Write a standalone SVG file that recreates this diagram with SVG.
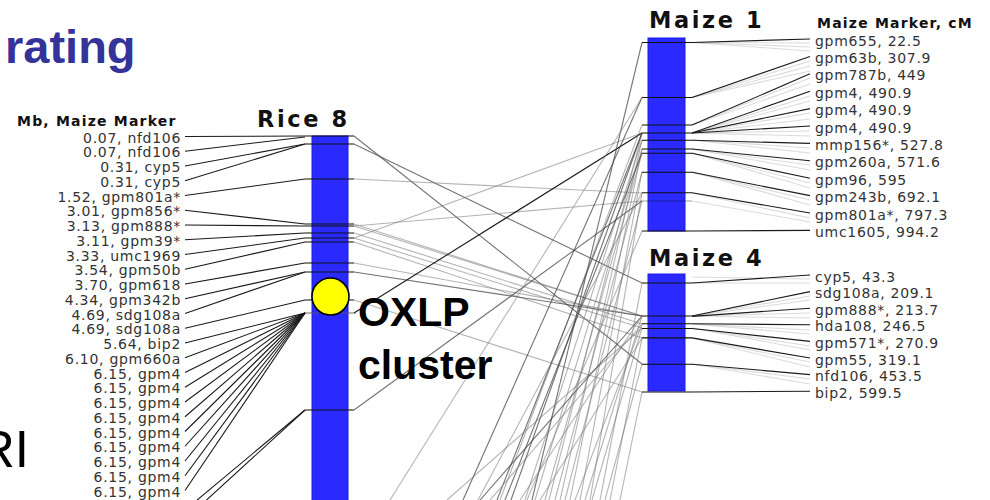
<svg xmlns="http://www.w3.org/2000/svg" width="990" height="500" viewBox="0 0 990 500">
<style>
.lbl{font-family:"DejaVu Sans",sans-serif;font-size:14px;letter-spacing:0.7px;fill:#333}
.hdr{font-family:"DejaVu Sans",sans-serif;font-size:14px;font-weight:bold;letter-spacing:1.2px;fill:#111}
.chr{font-family:"DejaVu Sans",sans-serif;font-size:22.5px;font-weight:bold;letter-spacing:2.6px;fill:#111}
.big{font-family:"Liberation Sans",Arial,sans-serif;font-weight:bold;font-size:41px;fill:#000}
.bar{fill:#2a2aff;stroke:#1a1aee;stroke-width:1}
line,polyline{fill:none;stroke-width:1.1}
.d{stroke:#1a1a1a}
.m{stroke:#444;stroke-opacity:.75}
.l{stroke:#777;stroke-opacity:.55}
.f{stroke:#999;stroke-opacity:.35}
.t{stroke:#111;stroke-width:1.2}
</style>
<rect width="990" height="500" fill="#fff"/>
<text x="5" y="63" font-family="Liberation Sans,Arial,sans-serif" font-weight="bold" font-size="47" fill="#333399">rating</text>
<text x="-22" y="467" font-family="Liberation Sans,Arial,sans-serif" font-size="51" fill="#000">RI</text>

<g id="connectors">
<g class="d">
<polyline points="185,136.5 305,136"/>
<polyline points="185,151.25 305,137"/>
<polyline points="185,166 305,144"/>
<polyline points="185,180.75 305,144"/>
<polyline points="185,195.5 305,179"/>
<polyline points="185,210.25 305,224"/>
<polyline points="185,225 305,226"/>
<polyline points="185,239.75 305,233"/>
<polyline points="185,254.5 305,238"/>
<polyline points="185,269.25 305,242"/>
<polyline points="185,284 305,263"/>
<polyline points="185,298.75 305,272"/>
<polyline points="185,313.5 305,272"/>
<polyline points="185,328.25 305,300"/>
<polyline points="185,343 305,313"/>
<polyline points="185,357.75 305,313"/>
<polyline points="185,372.5 305,313"/>
<polyline points="185,387.25 305,313"/>
<polyline points="185,402 305,313"/>
<polyline points="185,416.75 305,313"/>
<polyline points="185,431.5 305,313"/>
<polyline points="185,446.25 305,313"/>
<polyline points="185,461 305,313"/>
<polyline points="185,475.75 305,313"/>
<polyline points="185,490.5 305,313"/>
<polyline points="190,506 305,410"/>
<polyline points="200,506 305,410"/>
</g>
<line class="m" x1="354" y1="136" x2="642" y2="364"/>
<line class="m" x1="354" y1="144" x2="642" y2="283"/>
<line class="l" x1="354" y1="179" x2="642" y2="193"/>
<line class="l" x1="354" y1="224" x2="642" y2="316"/>
<line class="l" x1="354" y1="226" x2="642" y2="316"/>
<line class="l" x1="354" y1="226" x2="642" y2="201"/>
<line class="l" x1="354" y1="233" x2="642" y2="324"/>
<line class="l" x1="354" y1="238" x2="642" y2="133"/>
<line class="l" x1="354" y1="238" x2="642" y2="328"/>
<line class="l" x1="354" y1="242" x2="642" y2="338"/>
<line class="l" x1="354" y1="263" x2="642" y2="316"/>
<line class="m" x1="354" y1="272" x2="642" y2="316"/>
<line class="l" x1="354" y1="300" x2="642" y2="392"/>
<line class="d" x1="354" y1="313" x2="642" y2="133" stroke-width="1.4"/>
<line class="m" x1="354" y1="410" x2="642" y2="201"/>
<line class="m" x1="532" y1="500" x2="642" y2="42.5"/>
<line class="m" x1="463" y1="500" x2="642" y2="97.5"/>
<line class="l" x1="390" y1="500" x2="642" y2="97.5"/>
<line class="l" x1="500" y1="500" x2="642" y2="125"/>
<line class="m" x1="511" y1="500" x2="642" y2="133"/>
<line class="l" x1="549" y1="500" x2="642" y2="133"/>
<line class="m" x1="497" y1="500" x2="642" y2="133"/>
<line class="l" x1="525" y1="500" x2="642" y2="140"/>
<line class="l" x1="560" y1="500" x2="642" y2="140"/>
<line class="l" x1="535" y1="500" x2="642" y2="149"/>
<line class="l" x1="570" y1="500" x2="642" y2="149"/>
<line class="m" x1="505" y1="500" x2="642" y2="153"/>
<line class="l" x1="545" y1="500" x2="642" y2="153"/>
<line class="l" x1="555" y1="500" x2="642" y2="172"/>
<line class="l" x1="580" y1="500" x2="642" y2="172"/>
<line class="l" x1="478" y1="500" x2="642" y2="193"/>
<line class="l" x1="590" y1="500" x2="642" y2="193"/>
<line class="l" x1="565" y1="500" x2="642" y2="201"/>
<line class="l" x1="527" y1="500" x2="642" y2="231"/>
<line class="l" x1="447" y1="500" x2="642" y2="328"/>
<line class="l" x1="600" y1="500" x2="642" y2="283"/>
<line class="m" x1="480" y1="500" x2="642" y2="316"/>
<line class="l" x1="520" y1="500" x2="642" y2="316"/>
<line class="l" x1="585" y1="500" x2="642" y2="316"/>
<line class="l" x1="490" y1="500" x2="642" y2="324"/>
<line class="l" x1="575" y1="500" x2="642" y2="324"/>
<line class="l" x1="592" y1="500" x2="642" y2="328"/>
<line class="l" x1="540" y1="500" x2="642" y2="338"/>
<line class="l" x1="610" y1="500" x2="642" y2="338"/>
<line class="l" x1="605" y1="500" x2="642" y2="364"/>
<line class="l" x1="620" y1="500" x2="642" y2="392"/>
<g class="f">
<polyline points="692,42.5 810,43"/><polyline points="692,42.5 810,47"/><polyline points="692,42.5 810,51"/>
<polyline points="692,97.5 810,61"/><polyline points="692,97.5 810,66"/><polyline points="692,97.5 810,71"/>
<polyline points="692,125 810,78"/><polyline points="692,125 810,84"/>
<polyline points="692,133 810,96"/><polyline points="692,133 810,101"/><polyline points="692,133 810,113"/><polyline points="692,133 810,119"/><polyline points="692,133 810,131"/><polyline points="692,133 810,136"/>
<polyline points="692,140 810,148"/><polyline points="692,140 810,153"/>
<polyline points="692,149 810,165"/><polyline points="692,149 810,170"/>
<polyline points="692,153 810,183"/><polyline points="692,153 810,188"/>
<polyline points="692,172 810,200"/><polyline points="692,172 810,205"/>
<polyline points="692,193 810,218"/><polyline points="692,201 810,222"/>
<polyline points="692,277 810,279"/><polyline points="692,283 810,283"/>
<polyline points="692,316 810,296"/><polyline points="692,316 810,300"/><polyline points="692,316 810,313"/><polyline points="692,316 810,318"/>
<polyline points="692,324 810,330"/><polyline points="692,324 810,334"/>
<polyline points="692,328 810,346"/><polyline points="692,328 810,350"/>
<polyline points="692,338 810,362"/><polyline points="692,338 810,367"/>
<polyline points="692,364 810,379"/><polyline points="692,364 810,384"/>
</g>
<g class="d">
<polyline points="692,42.5 810,39"/>
<polyline points="692,97.5 810,56.4"/>
<polyline points="692,125 810,73.8"/>
<polyline points="692,133 810,91.2"/>
<polyline points="692,133 810,108.6"/>
<polyline points="692,133 810,126"/>
<polyline points="692,140.3 810,143.4"/>
<polyline points="692,149 810,160.8"/>
<polyline points="692,153.3 810,178.2"/>
<polyline points="692,172.2 810,195.6"/>
<polyline points="692,192.7 810,213"/>
<polyline points="692,231 810,230.4"/>
<polyline points="692,283 810,275"/>
<polyline points="692,316 810,291.6"/>
<polyline points="692,316.4 810,308.2"/>
<polyline points="692,323.7 810,324.8"/>
<polyline points="692,328.5 810,341.4"/>
<polyline points="692,337.9 810,358"/>
<polyline points="692,364.2 810,374.6"/>
<polyline points="692,392 810,391.2"/>
</g>
</g>

<g id="rice8">
<text class="chr" x="257" y="127">Rice 8</text>
<rect class="bar" x="312" y="136" width="36" height="370"/>
<g class="t">
<line x1="305" y1="136" x2="354" y2="136"/><line x1="305" y1="144" x2="354" y2="144"/>
<line x1="305" y1="179" x2="354" y2="179"/><line x1="305" y1="224" x2="354" y2="224"/>
<line x1="305" y1="226" x2="354" y2="226"/><line x1="305" y1="233" x2="354" y2="233"/>
<line x1="305" y1="238" x2="354" y2="238"/><line x1="305" y1="242" x2="354" y2="242"/>
<line x1="305" y1="263" x2="354" y2="263"/><line x1="305" y1="272" x2="354" y2="272"/>
<line x1="305" y1="300" x2="354" y2="300"/>
<line x1="305" y1="410" x2="354" y2="410"/>
</g>
<line x1="305" y1="313" x2="356" y2="313" stroke="#555" stroke-width="3.5" stroke-opacity=".85"/>
</g>

<g id="oxlp">
<circle cx="330.5" cy="296.5" r="18.5" fill="#ffff00" stroke="#000" stroke-width="1.6"/>
<text class="big" x="358" y="326">OXLP</text>
<text class="big" x="358" y="379">cluster</text>
</g>

<g id="leftlabels">
<text class="hdr" x="17" y="126">Mb, Maize Marker</text>
<g class="lbl" text-anchor="end">
<text x="181" y="142.5">0.07, nfd106</text>
<text x="181" y="157.25">0.07, nfd106</text>
<text x="181" y="172">0.31, cyp5</text>
<text x="181" y="186.75">0.31, cyp5</text>
<text x="181" y="201.5">1.52, gpm801a*</text>
<text x="181" y="216.25">3.01, gpm856*</text>
<text x="181" y="231">3.13, gpm888*</text>
<text x="181" y="245.75">3.11, gpm39*</text>
<text x="181" y="260.5">3.33, umc1969</text>
<text x="181" y="275.25">3.54, gpm50b</text>
<text x="181" y="290">3.70, gpm618</text>
<text x="181" y="304.75">4.34, gpm342b</text>
<text x="181" y="319.5">4.69, sdg108a</text>
<text x="181" y="334.25">4.69, sdg108a</text>
<text x="181" y="349">5.64, bip2</text>
<text x="181" y="363.75">6.10, gpm660a</text>
<text x="181" y="378.5">6.15, gpm4</text>
<text x="181" y="393.25">6.15, gpm4</text>
<text x="181" y="408">6.15, gpm4</text>
<text x="181" y="422.75">6.15, gpm4</text>
<text x="181" y="437.5">6.15, gpm4</text>
<text x="181" y="452.25">6.15, gpm4</text>
<text x="181" y="467">6.15, gpm4</text>
<text x="181" y="481.75">6.15, gpm4</text>
<text x="181" y="496.5">6.15, gpm4</text>
</g>
</g>

<g id="maize1">
<text class="chr" x="649" y="28">Maize 1</text>
<rect class="bar" x="648" y="38" width="37" height="193"/>
<g class="t">
<line x1="642" y1="42.5" x2="692" y2="42.5"/><line x1="642" y1="97.5" x2="692" y2="97.5"/>
<line x1="642" y1="125" x2="692" y2="125"/><line x1="642" y1="133" x2="692" y2="133"/>
<line x1="642" y1="140.3" x2="692" y2="140.3"/><line x1="642" y1="149" x2="692" y2="149"/>
<line x1="642" y1="153.3" x2="692" y2="153.3"/><line x1="642" y1="172.2" x2="692" y2="172.2"/>
<line x1="642" y1="192.7" x2="692" y2="192.7"/><line x1="642" y1="201" x2="692" y2="201" stroke-opacity=".4"/>
<line x1="642" y1="231" x2="692" y2="231"/>
</g>
<text class="hdr" x="817" y="28">Maize Marker, cM</text>
<g class="lbl">
<text x="815" y="45.5">gpm655, 22.5</text>
<text x="815" y="62.9">gpm63b, 307.9</text>
<text x="815" y="80.3">gpm787b, 449</text>
<text x="815" y="97.7">gpm4, 490.9</text>
<text x="815" y="115.1">gpm4, 490.9</text>
<text x="815" y="132.5">gpm4, 490.9</text>
<text x="815" y="149.9">mmp156*, 527.8</text>
<text x="815" y="167.3">gpm260a, 571.6</text>
<text x="815" y="184.7">gpm96, 595</text>
<text x="815" y="202.1">gpm243b, 692.1</text>
<text x="815" y="219.5">gpm801a*, 797.3</text>
<text x="815" y="236.9">umc1605, 994.2</text>
</g>
</g>

<g id="maize4">
<text class="chr" x="649" y="266">Maize 4</text>
<rect class="bar" x="648" y="274" width="37" height="117"/>
<g class="t">
<line x1="642" y1="283" x2="692" y2="283"/><line x1="642" y1="316" x2="692" y2="316"/>
<line x1="642" y1="323.7" x2="692" y2="323.7"/><line x1="642" y1="328.5" x2="692" y2="328.5"/>
<line x1="642" y1="337.9" x2="692" y2="337.9"/><line x1="642" y1="364.2" x2="692" y2="364.2"/>
<line x1="642" y1="392" x2="692" y2="392"/>
</g>
<g class="lbl">
<text x="815" y="281.5">cyp5, 43.3</text>
<text x="815" y="298.1">sdg108a, 209.1</text>
<text x="815" y="314.7">gpm888*, 213.7</text>
<text x="815" y="331.3">hda108, 246.5</text>
<text x="815" y="347.9">gpm571*, 270.9</text>
<text x="815" y="364.5">gpm55, 319.1</text>
<text x="815" y="381.1">nfd106, 453.5</text>
<text x="815" y="397.7">bip2, 599.5</text>
</g>
</g>
</svg>
